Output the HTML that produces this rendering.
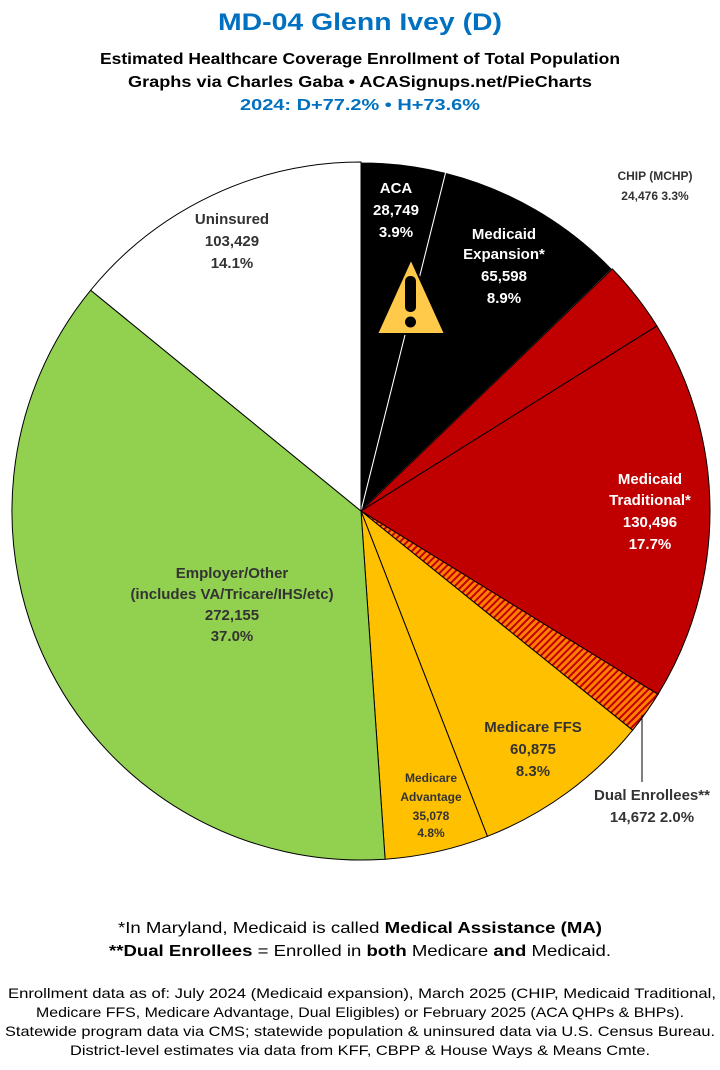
<!DOCTYPE html>
<html><head><meta charset="utf-8"><style>
body{margin:0;background:#fff;}
svg{display:block;font-family:"Liberation Sans","DejaVu Sans",sans-serif;font-weight:bold;}
</style></head><body>
<svg width="720" height="1070" viewBox="0 0 720 1070" xmlns="http://www.w3.org/2000/svg">
<defs>
<pattern id="h" patternUnits="userSpaceOnUse" width="5" height="5" patternTransform="rotate(45)">
<rect width="5" height="5" fill="#ff8000"/><rect width="2" height="5" fill="#c00000"/>
</pattern>
</defs>
<text x="360" y="30" text-anchor="middle" font-size="24" fill="#0070c0" textLength="284" lengthAdjust="spacingAndGlyphs">MD-04 Glenn Ivey (D)</text>
<text x="360" y="64" text-anchor="middle" font-size="16" fill="#000" textLength="520" lengthAdjust="spacingAndGlyphs">Estimated Healthcare Coverage Enrollment of Total Population</text>
<text x="360" y="87" text-anchor="middle" font-size="16" fill="#000" textLength="464" lengthAdjust="spacingAndGlyphs">Graphs via Charles Gaba  •  ACASignups.net/PieCharts</text>
<text x="360" y="110" text-anchor="middle" font-size="16" fill="#0070c0" textLength="240" lengthAdjust="spacingAndGlyphs">2024: D+77.2%  •  H+73.6%</text>

<g stroke="#000" stroke-width="1">
<path d="M361,511 L361,162 A349,349 0 0 1 445.7,172.4 Z" fill="#000" stroke="#fff"/>
<path d="M361,511 L445.7,172.4 A349,349 0 0 1 612.3,268.9 Z" fill="#000" stroke="#fff"/>
<path d="M361,511 L612.3,268.9 A349,349 0 0 1 656.9,325.9 Z" fill="#c00000"/>
<path d="M361,511 L656.9,325.9 A349,349 0 0 1 658.0,694.3 Z" fill="#c00000"/>
<path d="M361,511 L658.0,694.3 A349,349 0 0 1 632.6,730.2 Z" fill="url(#h)"/>
<path d="M361,511 L632.6,730.2 A349,349 0 0 1 487.4,836.3 Z" fill="#ffc000"/>
<path d="M361,511 L487.4,836.3 A349,349 0 0 1 385.1,859.2 Z" fill="#ffc000"/>
<path d="M361,511 L385.1,859.2 A349,349 0 0 1 90.7,290.2 Z" fill="#92d050"/>
<path d="M361,511 L90.7,290.2 A349,349 0 0 1 361,162 Z" fill="#fff"/>
</g>

<polygon points="411,259 377,334 445,334" fill="#ffc94a" stroke="#000" stroke-width="2" stroke-linejoin="round"/>
<rect x="405" y="276" width="11" height="36" rx="5" fill="#000"/>
<circle cx="410.5" cy="322" r="5.5" fill="#000"/>

<g text-anchor="middle" font-size="15">
<g fill="#fff"><text x="396" y="193">ACA</text><text x="396" y="215">28,749</text><text x="396" y="237">3.9%</text></g>
<g fill="#fff"><text x="504" y="239">Medicaid</text><text x="504" y="259">Expansion*</text><text x="504" y="281">65,598</text><text x="504" y="303">8.9%</text></g>
<g fill="#333" font-size="12"><text x="655" y="180">CHIP (MCHP)</text><text x="655" y="200">24,476 3.3%</text></g>
<g fill="#fff"><text x="650" y="484">Medicaid</text><text x="650" y="505">Traditional*</text><text x="650" y="527">130,496</text><text x="650" y="549">17.7%</text></g>
<g fill="#333"><text x="533" y="732">Medicare FFS</text><text x="533" y="754">60,875</text><text x="533" y="776">8.3%</text></g>
<g fill="#333" font-size="12"><text x="431" y="782">Medicare</text><text x="431" y="801">Advantage</text><text x="431" y="820">35,078</text><text x="431" y="837">4.8%</text></g>
<g fill="#333"><text x="232" y="578">Employer/Other</text><text x="232" y="599">(includes VA/Tricare/IHS/etc)</text><text x="232" y="620">272,155</text><text x="232" y="641">37.0%</text></g>
<g fill="#333"><text x="232" y="224">Uninsured</text><text x="232" y="246">103,429</text><text x="232" y="268">14.1%</text></g>
<g fill="#333"><text x="652" y="800">Dual Enrollees**</text><text x="652" y="822">14,672 2.0%</text></g>
</g>
<line x1="642" y1="715" x2="642" y2="782" stroke="#000" stroke-width="1"/>

<g text-anchor="middle" font-size="16" fill="#000" font-weight="normal">
<text x="360" y="933" textLength="484" lengthAdjust="spacingAndGlyphs">*In Maryland, Medicaid is called <tspan font-weight="bold">Medical Assistance (MA)</tspan></text>
<text x="360" y="956" textLength="502" lengthAdjust="spacingAndGlyphs"><tspan font-weight="bold">**Dual Enrollees</tspan> = Enrolled in <tspan font-weight="bold">both</tspan> Medicare <tspan font-weight="bold">and</tspan> Medicaid.</text>
</g>
<g text-anchor="middle" font-size="14" fill="#000" font-weight="normal">
<text x="362" y="998" textLength="708" lengthAdjust="spacingAndGlyphs">Enrollment data as of: July 2024 (Medicaid expansion), March 2025 (CHIP, Medicaid Traditional,</text>
<text x="360" y="1017" textLength="648" lengthAdjust="spacingAndGlyphs">Medicare FFS, Medicare Advantage, Dual Eligibles) or February 2025 (ACA QHPs &amp; BHPs).</text>
<text x="360" y="1036" textLength="710" lengthAdjust="spacingAndGlyphs">Statewide program data via CMS; statewide population &amp; uninsured data via U.S. Census Bureau.</text>
<text x="360" y="1055" textLength="580" lengthAdjust="spacingAndGlyphs">District-level estimates via data from KFF, CBPP &amp; House Ways &amp; Means Cmte.</text>
</g>
</svg>
</body></html>
